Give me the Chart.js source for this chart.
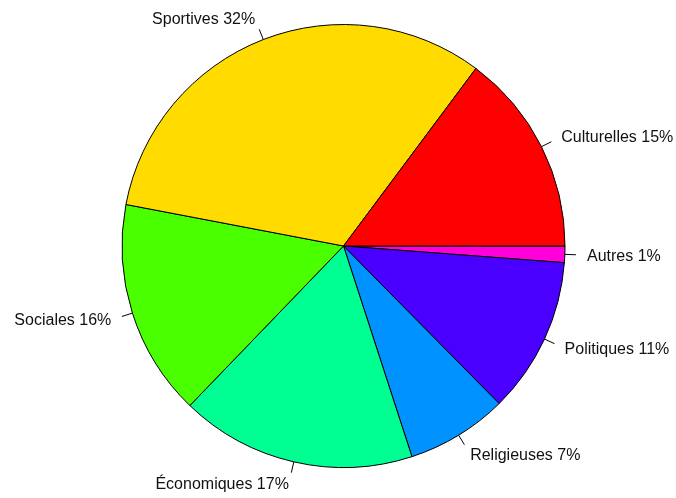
<!DOCTYPE html>
<html>
<head>
<meta charset="utf-8">
<script src="https://cdn.jsdelivr.net/npm/chart.js@4"></script>
<style>
  html, body { margin: 0; padding: 0; background: #ffffff; }
  #wrap { width: 676px; height: 498px; }
</style>
</head>
<body>
<div id="wrap"><canvas id="pie" width="676" height="498"></canvas></div>
<script>
// Associations by type (counts out of 1000), listed counterclockwise from 3 o'clock
const categories = ["Culturelles", "Sportives", "Sociales", "Économiques", "Religieuses", "Politiques", "Autres"];
const counts = [148, 322, 158, 172, 74, 114, 12];
const colors = ["#FF0000", "#FFDB00", "#49FF00", "#00FF92", "#0092FF", "#4900FF", "#FF00DB"];

const total = counts.reduce((a, b) => a + b, 0);
const labels = categories.map((c, i) => c + " " + Math.round(counts[i] / total * 100) + "%");

// Chart.js sweeps clockwise, so feed the slices in reverse and start at 3 o'clock
const rev = a => a.slice().reverse();

const outsideLabels = {
  id: "outsideLabels",
  afterDatasetsDraw(chart) {
    const ctx = chart.ctx;
    const meta = chart.getDatasetMeta(0);
    const lbls = chart.data.labels;
    ctx.save();
    ctx.font = "16px 'Liberation Sans', Arial, sans-serif";
    ctx.fillStyle = "#111111";
    ctx.strokeStyle = "#000000";
    ctx.lineWidth = 1;
    meta.data.forEach((arc, i) => {
      const p = arc.getProps(["x", "y", "startAngle", "endAngle", "outerRadius"], true);
      const mid = (p.startAngle + p.endAngle) / 2;
      const c = Math.cos(mid), s = Math.sin(mid);
      const r = p.outerRadius;
      ctx.beginPath();
      ctx.moveTo(p.x + r * c, p.y + r * s);
      ctx.lineTo(p.x + 1.05 * r * c, p.y + 1.05 * r * s);
      ctx.stroke();
      ctx.textAlign = c < 0 ? "right" : "left";
      ctx.textBaseline = "middle";
      ctx.fillText(lbls[i], p.x + 1.1 * r * c, p.y + 1.1 * r * s + 1);
    });
    ctx.restore();
  }
};

new Chart(document.getElementById("pie"), {
  type: "pie",
  data: {
    labels: rev(labels),
    datasets: [{
      data: rev(counts),
      backgroundColor: rev(colors),
      borderColor: "#000000",
      borderWidth: 1,
      hoverOffset: 0
    }]
  },
  options: {
    responsive: false,
    animation: false,
    rotation: 90,
    layout: { padding: { left: 121, right: 110, top: 24, bottom: 30 } },
    plugins: {
      legend: { display: false },
      tooltip: { enabled: false },
      title: { display: false }
    },
    events: []
  },
  plugins: [outsideLabels]
});
</script>
</body>
</html>
